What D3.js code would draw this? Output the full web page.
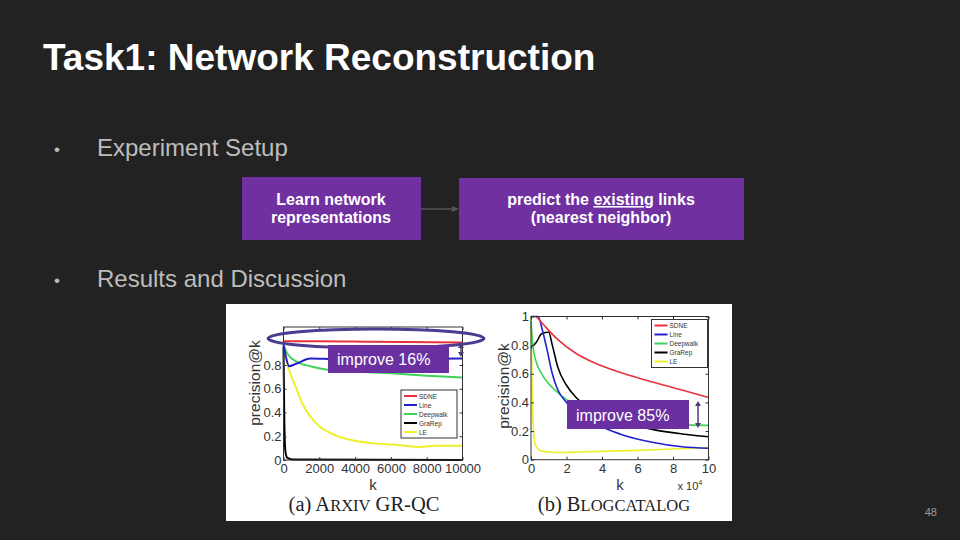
<!DOCTYPE html>
<html>
<head>
<meta charset="utf-8">
<script src="https://cdn.jsdelivr.net/npm/d3@7"></script>
<style>
  body { margin: 0; background: #222222; }
  svg { display: block; font-family: "Liberation Sans", Arial, sans-serif; }
</style>
</head>
<body>
<svg width="960" height="540"></svg>
<script>
  // series names and colours (legend order)
  const methods = ['SDNE', 'Line', 'Deepwalk', 'GraRep', 'LE'];
  const methodColors = ['#e8323c', '#2020cc', '#3fd25a', '#000000', '#eef02a'];

  // (a) arXiv GR-QC : [k, precision@k]
  const arxivSDNE = [[0, 1.0], [2000, 1.0], [5000, 0.995], [10000, 0.99]];
  const arxivLine = [[0, 0.97], [150, 0.86], [300, 0.79], [700, 0.81], [1500, 0.855], [3000, 0.85], [6000, 0.85], [10000, 0.855]];
  const arxivDeepwalk = [[0, 0.97], [200, 0.9], [500, 0.85], [1000, 0.81], [1500, 0.79], [2500, 0.76], [4000, 0.745], [6000, 0.73], [8000, 0.71], [10000, 0.695]];
  const arxivGraRep = [[0, 0.95], [40, 0.4], [100, 0.08], [200, 0.02], [500, 0.005], [10000, 0.0]];
  const arxivLE = [[0, 1.0], [200, 0.82], [420, 0.71], [700, 0.61], [1040, 0.48], [1480, 0.37], [2040, 0.28], [2880, 0.21], [3700, 0.17], [5100, 0.14], [6500, 0.125], [7700, 0.11], [8500, 0.12], [10000, 0.12]];
  const arxivTicksX = [0, 2000, 4000, 6000, 8000, 10000];
  const arxivTicksY = [0, 0.2, 0.4, 0.6, 0.8];

  // (b) BlogCatalog : [k (x10^4), precision@k]
  const blogSDNE = [[0.3, 1.0], [0.8, 0.93], [1.5, 0.84], [2.5, 0.745], [3.5, 0.68], [5, 0.61], [6.5, 0.555], [8.4, 0.49], [10, 0.435]];
  const blogLine = [[0, 1.0], [0.4, 1.0], [0.65, 0.9], [0.9, 0.77], [1.2, 0.6], [1.5, 0.49], [2.0, 0.4], [3.0, 0.31], [4.0, 0.23], [5.0, 0.18], [6.9, 0.12], [8.5, 0.09], [10, 0.08]];
  const blogDeepwalk = [[0, 0.97], [0.1, 0.8], [0.3, 0.68], [0.6, 0.6], [1.0, 0.53], [1.5, 0.47], [2.0, 0.42], [3.0, 0.36], [4.5, 0.31], [6.5, 0.27], [8.5, 0.245], [10, 0.24]];
  const blogGraRep = [[0, 0.78], [0.3, 0.82], [0.6, 0.88], [1.0, 0.89], [1.2, 0.8], [1.5, 0.65], [2.0, 0.52], [2.5, 0.44], [3.5, 0.35], [5, 0.27], [6.9, 0.21], [8.5, 0.18], [10, 0.16]];
  const blogLE = [[0, 1.0], [0.05, 0.6], [0.12, 0.25], [0.25, 0.1], [0.6, 0.06], [1.5, 0.05], [3, 0.055], [6, 0.065], [8, 0.075], [10, 0.085]];
  const blogTicksX = [0, 2, 4, 6, 8, 10];
  const blogTicksY = [0, 0.2, 0.4, 0.6, 0.8, 1];

  const svg = d3.select('svg');

  // ---- slide text ----
  svg.append('text')
    .attr('x', 43).attr('y', 70)
    .attr('fill', '#ffffff')
    .attr('font-size', 37).attr('font-weight', 'bold')
    .text('Task1: Network Reconstruction');

  const bullets = [['Experiment Setup', 156], ['Results and Discussion', 287]];
  bullets.forEach(b => {
    svg.append('text').attr('x', 54).attr('y', b[1] - 1).attr('fill', '#bbbbbb')
      .attr('font-size', 17).text('•');
    svg.append('text').attr('x', 97).attr('y', b[1]).attr('fill', '#bdbdbd')
      .attr('font-size', 24).text(b[0]);
  });

  svg.append('text').attr('x', 937).attr('y', 516).attr('text-anchor', 'end')
    .attr('fill', '#9a9a9a').attr('font-size', 11).text('48');

  // ---- flow boxes ----
  const purple = '#7030a0';
  svg.append('line').attr('x1', 421).attr('x2', 456).attr('y1', 209).attr('y2', 209)
    .attr('stroke', '#555').attr('stroke-width', 1.5);
  svg.append('path').attr('d', 'M452,206 L459,209 L452,212 Z').attr('fill', '#555');

  const box1 = svg.append('g');
  box1.append('rect').attr('x', 242).attr('y', 177).attr('width', 179).attr('height', 63).attr('fill', purple);
  box1.append('text').attr('x', 331).attr('y', 205).attr('text-anchor', 'middle')
    .attr('fill', '#fff').attr('font-size', 16).attr('font-weight', 'bold').text('Learn network');
  box1.append('text').attr('x', 331).attr('y', 223).attr('text-anchor', 'middle')
    .attr('fill', '#fff').attr('font-size', 16).attr('font-weight', 'bold').text('representations');

  const box2 = svg.append('g');
  box2.append('rect').attr('x', 459).attr('y', 178).attr('width', 285).attr('height', 62).attr('fill', purple);
  const t2 = box2.append('text').attr('x', 601).attr('y', 205).attr('text-anchor', 'middle')
    .attr('fill', '#fff').attr('font-size', 16).attr('font-weight', 'bold');
  t2.append('tspan').text('predict the ');
  t2.append('tspan').attr('text-decoration', 'underline').text('existing');
  t2.append('tspan').text(' links');
  box2.append('text').attr('x', 601).attr('y', 223).attr('text-anchor', 'middle')
    .attr('fill', '#fff').attr('font-size', 16).attr('font-weight', 'bold').text('(nearest neighbor)');

  // ---- white figure panel ----
  svg.append('rect').attr('x', 226).attr('y', 304).attr('width', 506).attr('height', 217).attr('fill', '#ffffff');

  const line = (x, y) => d3.line().x(d => x(d[0])).y(d => y(d[1])).curve(d3.curveMonotoneX);

  function drawChart(cfg) {
    const g = svg.append('g');
    const x = d3.scaleLinear().domain(cfg.xDomain).range([cfg.left, cfg.right]);
    const y = d3.scaleLinear().domain(cfg.yDomain).range([cfg.bottom, cfg.top]);

    // series (last in list drawn first so SDNE ends on top)
    const order = [4, 3, 2, 1, 0];
    order.forEach(i => {
      g.append('path').datum(cfg.series[i])
        .attr('d', line(x, y))
        .attr('fill', 'none')
        .attr('stroke', methodColors[i])
        .attr('stroke-width', cfg.lw);
    });

    // axes, MATLAB style: ticks inside, box all round
    const axisStyle = a => a.call(s => s.selectAll('text').attr('fill', '#333').attr('font-size', 13))
      .call(s => s.selectAll('line').attr('stroke', '#333'));

    g.append('g').attr('transform', `translate(0,${cfg.bottom})`)
      .call(d3.axisBottom(x).tickValues(cfg.xTicks).tickSizeInner(-3).tickSizeOuter(0).tickPadding(4).tickFormat(d3.format('d')))
      .call(axisStyle);
    g.append('g').attr('transform', `translate(0,${cfg.top})`)
      .call(d3.axisTop(x).tickValues(cfg.xTicks).tickSizeInner(-3).tickSizeOuter(0).tickFormat(''))
      .call(axisStyle);
    g.append('g').attr('transform', `translate(${cfg.left},0)`)
      .call(d3.axisLeft(y).tickValues(cfg.yTicks).tickSizeInner(-3).tickSizeOuter(0).tickPadding(2).tickFormat(d3.format('~g')))
      .call(axisStyle);
    g.append('g').attr('transform', `translate(${cfg.right},0)`)
      .call(d3.axisRight(y).tickValues(cfg.yTicks).tickSizeInner(-3).tickSizeOuter(0).tickFormat(''))
      .call(axisStyle);
    g.selectAll('.domain').remove();
    g.append('rect').attr('x', cfg.left).attr('y', cfg.top)
      .attr('width', cfg.right - cfg.left).attr('height', cfg.bottom - cfg.top)
      .attr('fill', 'none').attr('stroke', '#333');

    // axis labels
    g.append('text').attr('transform', `translate(${cfg.ylabX},${cfg.ylabY}) rotate(-90)`)
      .attr('text-anchor', 'middle').attr('fill', '#333').attr('font-size', 15.5).text('precision@k');
    g.append('text').attr('x', cfg.kX).attr('y', 490)
      .attr('text-anchor', 'middle').attr('fill', '#333').attr('font-size', 15).text('k');

    // legend
    const lg = g.append('g').attr('transform', `translate(${cfg.legX},${cfg.legY})`);
    lg.append('rect').attr('width', 56).attr('height', 48).attr('fill', '#fff').attr('stroke', '#333');
    methods.forEach((m, i) => {
      const yy = 6 + i * 9;
      lg.append('line').attr('x1', 3).attr('x2', 16).attr('y1', yy).attr('y2', yy)
        .attr('stroke', methodColors[i]).attr('stroke-width', 2);
      lg.append('text').attr('x', 18).attr('y', yy + 2.5).attr('font-size', 6.5)
        .attr('fill', '#333').text(m);
    });

    // caption
    const cap = g.append('text').attr('x', cfg.capX).attr('y', 511).attr('text-anchor', 'middle')
      .attr('font-family', '"Liberation Serif", "Times New Roman", serif').attr('fill', '#222').attr('font-size', 20.5);
    cfg.caption.forEach(c => cap.append('tspan').attr('font-size', c[1]).text(c[0]));
    return { x, y, g };
  }

  drawChart({
    xDomain: [0, 10000], yDomain: [0, 1.12],
    left: 283.5, right: 462.5, top: 327, bottom: 460, lw: 2,
    series: [arxivSDNE, arxivLine, arxivDeepwalk, arxivGraRep, arxivLE],
    xTicks: arxivTicksX, yTicks: arxivTicksY,
    ylabX: 260, ylabY: 383, kX: 373, legX: 401, legY: 390, capX: 364,
    caption: [['(a) A', 20.5], ['RXIV', 16.5], [' GR-QC', 20.5]]
  });

  drawChart({
    xDomain: [0, 10], yDomain: [0, 1],
    left: 531, right: 708.5, top: 316.5, bottom: 459.7, lw: 1.6,
    series: [blogSDNE, blogLine, blogDeepwalk, blogGraRep, blogLE],
    xTicks: blogTicksX, yTicks: blogTicksY,
    ylabX: 509, ylabY: 386, kX: 620, legX: 651.5, legY: 319.5, capX: 614,
    caption: [['(b) B', 20.5], ['LOGCATALOG', 16.5]]
  });

  const xl = svg.append('text').attr('x', 690).attr('y', 490).attr('text-anchor', 'middle')
    .attr('fill', '#333').attr('font-size', 11);
  xl.append('tspan').text('x 10');
  xl.append('tspan').attr('dy', -5).attr('font-size', 7.5).text('4');

  // ---- annotations ----
  const annot = '#6a2fa0';
  svg.append('ellipse').attr('cx', 376).attr('cy', 338.5).attr('rx', 108).attr('ry', 9.5)
    .attr('fill', 'none').attr('stroke', '#4a3d8f').attr('stroke-width', 3);

  const arrow = (x0, y0, y1) => {
    svg.append('line').attr('x1', x0).attr('x2', x0).attr('y1', y0 + 3).attr('y2', y1 - 3)
      .attr('stroke', '#4a3d7a').attr('stroke-width', 1.5);
    svg.append('path').attr('d', `M${x0 - 3},${y0 + 5} L${x0},${y0} L${x0 + 3},${y0 + 5} Z`).attr('fill', '#4a3d7a');
    svg.append('path').attr('d', `M${x0 - 3},${y1 - 5} L${x0},${y1} L${x0 + 3},${y1 - 5} Z`).attr('fill', '#4a3d7a');
  };
  arrow(461, 343, 357);
  arrow(698, 401, 428);

  const note = (x0, y0, w, h, txt) => {
    svg.append('rect').attr('x', x0).attr('y', y0).attr('width', w).attr('height', h).attr('fill', annot);
    svg.append('text').attr('x', x0 + 9).attr('y', y0 + h / 2 + 6)
      .attr('fill', '#fff').attr('font-size', 16).text(txt);
  };
  note(328, 345, 121, 28, 'improve 16%');
  note(567, 400, 122, 29, 'improve 85%');
</script>
</body>
</html>
